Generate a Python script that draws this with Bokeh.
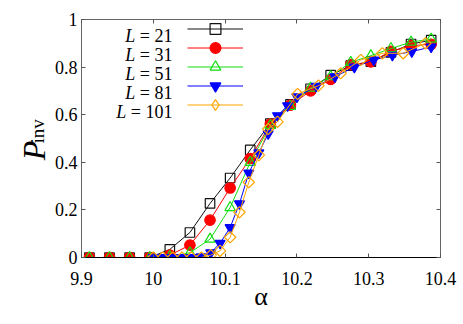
import math
from bokeh.plotting import figure
from bokeh.models import (Range1d, FixedTicker, LinearAxis, Legend, LegendItem, Label)
from bokeh.embed import file_html
from bokeh.resources import INLINE

# ---------------- data ----------------
alpha_coarse = [9.911, 9.939, 9.967, 9.995, 10.023, 10.051, 10.079, 10.107, 10.135,
                10.163, 10.191, 10.219, 10.247, 10.275, 10.303, 10.331, 10.359, 10.387]
p_L21 = [0, 0, 0, 0, 0.034, 0.105, 0.227, 0.334, 0.452, 0.563, 0.643, 0.709, 0.766,
         0.806, 0.823, 0.862, 0.897, 0.913]
p_L31 = [0, 0, 0, 0, 0.01, 0.052, 0.157, 0.292, 0.416, 0.561, 0.64, 0.70, 0.748,
         0.81, 0.822, 0.866, 0.89, 0.896]
p_L51 = [0, 0, 0, 0, 0.004, 0.02, 0.077, 0.21, 0.40, 0.555, 0.635, 0.712, 0.76,
         0.82, 0.848, 0.878, 0.905, 0.918]

alpha_L81 = [10.000, 10.013, 10.027, 10.040, 10.053, 10.067, 10.080, 10.093, 10.107,
             10.120, 10.133, 10.147, 10.160, 10.173, 10.187, 10.200, 10.227, 10.253,
             10.280, 10.307, 10.333, 10.360, 10.387]
p_L81 = [0, 0, 0, 0, 0, 0.003, 0.02, 0.06, 0.126, 0.226, 0.355, 0.44, 0.52, 0.596,
         0.638, 0.675, 0.72, 0.76, 0.80, 0.83, 0.85, 0.865, 0.885]

alpha_L101 = [10.000, 10.013, 10.027, 10.040, 10.053, 10.067, 10.080, 10.093, 10.107,
              10.120, 10.133, 10.147, 10.160, 10.173, 10.201, 10.230, 10.261, 10.289,
              10.319, 10.348, 10.379]
p_L101 = [0, 0, 0, 0, 0, 0, 0.01, 0.028, 0.085, 0.19, 0.316, 0.43, 0.54, 0.57, 0.687,
          0.722, 0.774, 0.83, 0.858, 0.858, 0.90]

sizes_L = ["21", "31", "51", "81", "101"]
x_ticks = [9.9, 10.0, 10.1, 10.2, 10.3, 10.4]
x_tick_labels = ["9.9", "10", "10.1", "10.2", "10.3", "10.4"]
y_ticks = [0, 0.2, 0.4, 0.6, 0.8, 1.0]
y_tick_labels = ["0", "0.2", "0.4", "0.6", "0.8", "1"]

# ---------------- figure ----------------
W, H = 463, 322
p = figure(width=W, height=H, output_backend="svg", toolbar_location=None,
           x_range=Range1d(9.9, 10.4), y_range=Range1d(0, 1),
           min_border_left=81, min_border_right=23, min_border_top=19,
           min_border_bottom=H - 257)
p.grid.visible = False
p.outline_line_color = "#666666"
p.outline_line_width = 1
p.background_fill_color = "white"
p.border_fill_color = "white"

FONT = "Liberation Serif"

def style_axis(ax, show_labels):
    ax.major_tick_in = 4
    ax.major_tick_out = 0
    ax.minor_tick_line_color = None
    ax.major_tick_line_color = "#555555"
    ax.axis_line_color = None
    ax.major_label_text_font = FONT
    ax.major_label_text_color = "black"
    ax.major_label_text_font_size = "18px"
    if not show_labels:
        ax.major_label_overrides = {t: "" for t in ax.ticker.ticks}
        ax.major_label_standoff = 0

xa = p.xaxis[0]
xa.ticker = FixedTicker(ticks=x_ticks)
xa.major_label_overrides = {t: s for t, s in zip(x_ticks, x_tick_labels)}
style_axis(xa, True)
xa.axis_line_color = "black"
xa.major_label_standoff = 14
xa.axis_label = "α"
xa.axis_label_text_font = FONT
xa.axis_label_text_color = "black"
xa.axis_label_text_font_style = "normal"
xa.axis_label_text_font_size = "26px"
xa.axis_label_standoff = -6

NB = "\u00a0"
ya = p.yaxis[0]
ya.ticker = FixedTicker(ticks=y_ticks)
ya.major_label_overrides = {t: s for t, s in zip(y_ticks, y_tick_labels)}
style_axis(ya, True)
ya.major_label_standoff = 4
# subscript part of the y label, shifted up with leading spaces
ya.axis_label = NB * 3 + "inv"
ya.axis_label_text_font = FONT
ya.axis_label_text_color = "black"
ya.axis_label_text_font_style = "normal"
ya.axis_label_text_font_size = "19px"
ya.axis_label_standoff = 4

# outer left axis carrying the main letter "P"
ya2 = LinearAxis(ticker=FixedTicker(ticks=[]), axis_label="P" + NB * 3)
ya2.major_tick_in = 0
ya2.major_tick_out = 0
ya2.minor_tick_line_color = None
ya2.major_tick_line_color = None
ya2.axis_line_color = None
ya2.axis_label_text_font = FONT
ya2.axis_label_text_color = "black"
ya2.axis_label_text_font_style = "italic"
ya2.axis_label_text_font_size = "32px"
ya2.axis_label_standoff = -28
ya2.major_label_standoff = 0
p.add_layout(ya2, "left")

top = LinearAxis(ticker=FixedTicker(ticks=x_ticks))
style_axis(top, False)
p.add_layout(top, "above")
right = LinearAxis(ticker=FixedTicker(ticks=y_ticks))
style_axis(right, False)
p.add_layout(right, "right")

# ---------------- series ----------------
series = [
    (alpha_coarse, p_L21, "#111111", "square", "none", 9.5, 0, "square"),
    (alpha_coarse, p_L31, "#ff0000", "circle", "#ff0000", 10.5, 0, "circle"),
    (alpha_coarse, p_L51, "#11dd11", "triangle", "none", 10.5, 0, "triangle"),
    (alpha_L81, p_L81, "#0000ff", "inverted_triangle", "#0000ff", 10, 0, "inverted_triangle"),
    (alpha_L101, p_L101, "#ffa500", "square", "none", 8, math.pi / 4, "diamond"),
]

row_pitch = 19
glyph_h = 27
first_row_center = 228.5   # from frame bottom
for i, ((xs, ys, col, mk, fill, sz, ang, legmk), lab) in enumerate(zip(series, sizes_L)):
    fc = None if fill == "none" else fill
    ln = p.line(xs, ys, line_color=col, line_width=1)
    sc = p.scatter(xs, ys, marker=mk, size=sz, angle=ang, line_color=col,
                   fill_color=fc, line_width=1.2)
    rends = [ln, sc]
    if legmk != mk:
        # legend-only marker (no visible point in the plot)
        dummy = p.scatter([math.nan], [math.nan], marker=legmk, line_color=col,
                          fill_color=fc, line_width=1.2)
        rends = [ln, dummy]
    yc = first_row_center - i * row_pitch
    leg = Legend(items=[LegendItem(label="", renderers=rends)],
                 location=(106, int(round(yc - glyph_h / 2))), padding=0, margin=0,
                 spacing=0, glyph_width=56, glyph_height=glyph_h, label_height=0,
                 label_width=0, label_standoff=0, label_text_font_size="6px",
                 border_line_color=None, background_fill_alpha=0)
    p.add_layout(leg, "center")

# legend texts on the left of the samples
ADV = {" ": 0.25, "=": 0.564}
FS = 18
text_right = 91
for i, lab in enumerate(sizes_L):
    rest = "= " + lab
    y = first_row_center - 7 - i * row_pitch
    p.add_layout(Label(x=text_right, y=y, x_units="screen", y_units="screen",
                       text=rest, text_font=FONT, text_font_size=f"{FS}px",
                       text_color="black", text_align="right",
                       text_baseline="alphabetic"))
    w = (sum(ADV.get(c, 0.5) for c in rest) + 0.25) * FS
    p.add_layout(Label(x=text_right - w, y=y, x_units="screen", y_units="screen",
                       text="L", text_font=FONT, text_font_size=f"{FS}px",
                       text_color="black", text_font_style="italic",
                       text_align="right", text_baseline="alphabetic"))

open("out.html", "w").write(file_html(p, INLINE))
